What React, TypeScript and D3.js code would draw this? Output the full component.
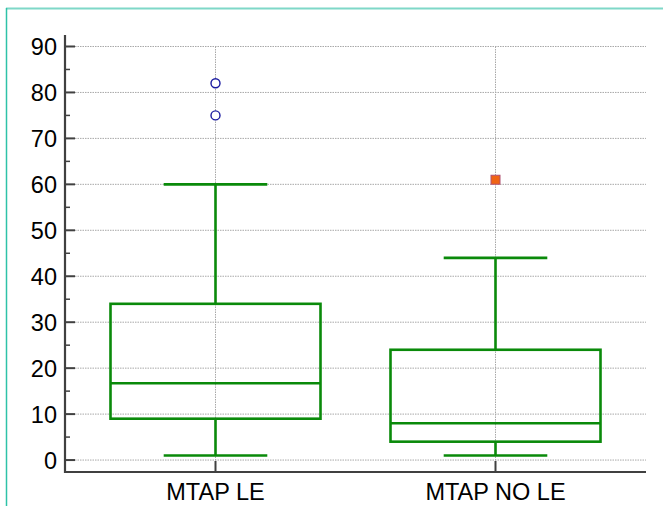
import React from "react";
import * as d3 from "d3";

const categories = ["MTAP LE", "MTAP NO LE"];
const q1 = [9, 4];
const medians = [16.7, 8];
const q3 = [34, 24];
const whiskerLow = [1, 1];
const whiskerHigh = [60, 44];
const outliersLE = [82, 75];
const outliersNoLE = [61];
const yTicks = [0, 10, 20, 30, 40, 50, 60, 70, 80, 90];
const yMinorTicks = [5, 15, 25, 35, 45, 55, 65, 75, 85];

const W = 663;
const H = 506;

export default function App() {
  const y = d3.scaleLinear().domain([-2.6, 92.5]).range([472, 35]);
  const x = d3.scalePoint<string>().domain(categories).range([65, 646]).padding(0.5375);
  const step = x.step();
  const boxW = step * 0.75;
  const capW = step * 0.37;
  const green = "#0a8a0a";
  const axisColor = "#404040";
  const font = "Liberation Sans, Arial, sans-serif";

  return (
    <svg width={W} height={H} style={{ position: "absolute", left: 0, top: 0, background: "#fff" }}>
      {/* frame */}
      <line x1={6} x2={W} y1={8.5} y2={8.5} stroke="#7fd8c8" strokeWidth={2} />
      <line x1={6.5} x2={6.5} y1={8} y2={H} stroke="#2ec2a8" strokeWidth={1.5} />

      {/* horizontal grid */}
      {yTicks.map((t) => (
        <line key={"g" + t} x1={75} x2={646} y1={y(t)} y2={y(t)} stroke="#a8a8a8" strokeWidth={1} strokeDasharray="1.5,1" />
      ))}
      {/* vertical grid */}
      {categories.map((c) => (
        <line key={"vg" + c} x1={x(c)!} x2={x(c)!} y1={y(90)} y2={y(-2.6)} stroke="#a8a8a8" strokeWidth={1} strokeDasharray="1.5,1" />
      ))}

      {/* boxes */}
      {categories.map((c, i) => {
        const cx = x(c)!;
        return (
          <g key={"b" + c} stroke={green} strokeWidth={2.6} fill="none">
            <line x1={cx} x2={cx} y1={y(q3[i])} y2={y(whiskerHigh[i])} />
            <line x1={cx} x2={cx} y1={y(q1[i])} y2={y(whiskerLow[i])} />
            <line x1={cx - capW / 2} x2={cx + capW / 2} y1={y(whiskerHigh[i])} y2={y(whiskerHigh[i])} />
            <line x1={cx - capW / 2} x2={cx + capW / 2} y1={y(whiskerLow[i])} y2={y(whiskerLow[i])} />
            <rect x={cx - boxW / 2} y={y(q3[i])} width={boxW} height={y(q1[i]) - y(q3[i])} fill="none" />
            <line x1={cx - boxW / 2} x2={cx + boxW / 2} y1={y(medians[i])} y2={y(medians[i])} />
          </g>
        );
      })}

      {/* outliers */}
      {outliersLE.map((v, i) => (
        <circle key={"o" + i} cx={x(categories[0])!} cy={y(v)} r={4.5} fill="#fff" stroke="#1a1aa0" strokeWidth={1.4} />
      ))}
      {outliersNoLE.map((v, i) => (
        <rect key={"s" + i} x={x(categories[1])! - 4.5} y={y(v) - 4.5} width={9} height={9} fill="#f06414" stroke="#b05070" strokeWidth={1} />
      ))}

      {/* y axis */}
      <line x1={65} x2={65} y1={35} y2={473} stroke={axisColor} strokeWidth={2.2} />
      {yTicks.map((t) => (
        <g key={"t" + t}>
          <line x1={65} x2={75} y1={y(t)} y2={y(t)} stroke={axisColor} strokeWidth={2} />
          <text x={57} y={y(t)} dy="0.36em" textAnchor="end" fontFamily={font} fontSize={23.5} fill="#000">
            {t}
          </text>
        </g>
      ))}
      {yMinorTicks.map((t) => (
        <line key={"m" + t} x1={65} x2={70} y1={y(t)} y2={y(t)} stroke={axisColor} strokeWidth={1.5} />
      ))}

      {/* x axis */}
      <line x1={64} x2={646} y1={472} y2={472} stroke={axisColor} strokeWidth={2.2} />
      {categories.map((c) => (
        <g key={"xt" + c}>
          <line x1={x(c)!} x2={x(c)!} y1={472} y2={461} stroke={axisColor} strokeWidth={2} />
          <text x={x(c)!} y={499.5} textAnchor="middle" fontFamily={font} fontSize={23.5} fill="#000">
            {c}
          </text>
        </g>
      ))}
    </svg>
  );
}
